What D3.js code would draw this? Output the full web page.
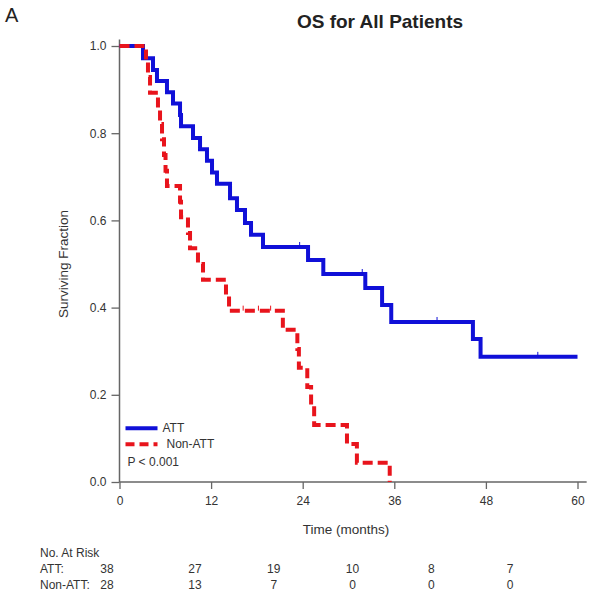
<!DOCTYPE html>
<html>
<head>
<meta charset="utf-8">
<script src="https://cdn.jsdelivr.net/npm/d3@7"></script>
<style>
  body { margin: 0; background: #fff; }
  svg { display: block; font-family: Arial, "Liberation Sans", sans-serif; }
</style>
</head>
<body>
<svg id="chart" width="589" height="599"></svg>
<script>
// ---- Data ----
const attTimes  = [0, 3.08, 4.39, 4.91, 6.22, 7.01, 7.93, 8.06, 9.63, 10.55, 11.46, 12.12, 12.77, 14.48, 15.39, 16.44, 17.23, 18.8, 24.7, 26.7, 32.2, 34.4, 35.6, 46.3, 47.3, 60];
const attValues = [1, 0.972, 0.945, 0.920, 0.894, 0.868, 0.842, 0.816, 0.789, 0.763, 0.737, 0.710, 0.684, 0.651, 0.624, 0.594, 0.567, 0.539, 0.509, 0.477, 0.445, 0.406, 0.367, 0.328, 0.287, 0.287];
const attCensorTimes = [23.6, 31.8, 41.6, 54.8];

const nonTimes  = [0, 3.47, 3.73, 4.0, 5.04, 5.31, 5.57, 5.83, 6.03, 6.22, 7.93, 8.06, 8.97, 9.24, 10.28, 10.94, 13.95, 14.35, 21.4, 23.3, 23.5, 24.6, 25.1, 25.5, 29.8, 31.1, 35.4];
const nonValues = [1, 0.964, 0.929, 0.893, 0.857, 0.821, 0.786, 0.750, 0.714, 0.679, 0.643, 0.607, 0.571, 0.536, 0.500, 0.464, 0.429, 0.393, 0.349, 0.305, 0.262, 0.218, 0.175, 0.131, 0.087, 0.044, 0];
const nonCensorTimes = [16.2, 18.2, 19.8];

const xTicks = [0, 12, 24, 36, 48, 60];
const yTicks = [0, 0.2, 0.4, 0.6, 0.8, 1.0];

const riskLabels = ["ATT:", "Non-ATT:"];
const riskATT = [38, 27, 19, 10, 8, 7];
const riskNon = [28, 13, 7, 0, 0, 0];

// ---- Layout ----
const svg = d3.select("#chart");
const margin = { left: 119.5, right: 11.5, top: 46, bottom: 117 };
const W = 589, H = 599;
const x = d3.scaleLinear().domain([0, 60]).range([margin.left, W - margin.right]);
const y = d3.scaleLinear().domain([0, 1]).range([H - margin.bottom, margin.top]);

const axisColor = "#666";
const textColor = "#333";

// Panel letter & title
svg.append("text").attr("x", 5).attr("y", 22).attr("font-size", 20).attr("fill", "#222").text("A");
svg.append("text").attr("x", 380).attr("y", 28).attr("text-anchor", "middle")
  .attr("font-size", 19).attr("font-weight", "bold").attr("fill", "#222").text("OS for All Patients");

// Y axis
const yAxis = svg.append("g").attr("transform", `translate(${x(0)},0)`)
  .call(d3.axisLeft(y).tickValues(yTicks).tickFormat(d3.format(".1f")).tickSize(8).tickSizeOuter(0).tickPadding(5));
yAxis.select(".domain").attr("d", `M0,${y(1.015)}V${y(0)}`);
// X axis
const xAxis = svg.append("g").attr("transform", `translate(0,${y(0)})`)
  .call(d3.axisBottom(x).tickValues(xTicks).tickSize(7).tickSizeOuter(0).tickPadding(7));
xAxis.select(".domain").attr("d", `M${x(0)},0H${x(61.2)}`);

[yAxis, xAxis].forEach(g => {
  g.selectAll(".domain").attr("stroke", axisColor).attr("stroke-width", 1.5);
  g.selectAll(".tick line").attr("stroke", axisColor).attr("stroke-width", 1.3);
  g.selectAll(".tick text").attr("fill", textColor).attr("font-size", 12)
    .attr("font-family", "Arial, 'Liberation Sans', sans-serif");
});

// Axis titles
svg.append("text").attr("transform", `translate(68,${y(0.5)}) rotate(-90)`).attr("text-anchor", "middle")
  .attr("font-size", 13.5).attr("fill", textColor).text("Surviving Fraction");
svg.append("text").attr("x", 346).attr("y", y(0) + 52).attr("text-anchor", "middle")
  .attr("font-size", 13.5).attr("fill", textColor).text("Time (months)");

// Curves
const line = d3.line().x(d => x(d[0])).y(d => y(d[1])).curve(d3.curveStepAfter);
const attData = attTimes.map((t, i) => [t, attValues[i]]);
const nonData = nonTimes.map((t, i) => [t, nonValues[i]]);

function valueAt(times, values, t) {
  let v = values[0];
  for (let i = 0; i < times.length; i++) if (times[i] <= t) v = values[i];
  return v;
}

svg.append("path").datum(attData).attr("d", line)
  .attr("fill", "none").attr("stroke", "#1010d8").attr("stroke-width", 4);
svg.append("path").datum(nonData).attr("d", line)
  .attr("fill", "none").attr("stroke", "#e8141c").attr("stroke-width", 4)
  .attr("stroke-dasharray", "10,5");

// Censor marks
svg.selectAll(".cA").data(attCensorTimes).enter().append("line")
  .attr("x1", d => x(d)).attr("x2", d => x(d))
  .attr("y1", d => y(valueAt(attTimes, attValues, d)) - 5)
  .attr("y2", d => y(valueAt(attTimes, attValues, d)))
  .attr("stroke", "#1010d8").attr("stroke-width", 1);
svg.selectAll(".cN").data(nonCensorTimes).enter().append("line")
  .attr("x1", d => x(d)).attr("x2", d => x(d))
  .attr("y1", d => y(valueAt(nonTimes, nonValues, d)) - 5)
  .attr("y2", d => y(valueAt(nonTimes, nonValues, d)))
  .attr("stroke", "#e8141c").attr("stroke-width", 1);

// Legend
const lg = svg.append("g").attr("transform", `translate(${x(0) + 6},${y(0.123)})`);
lg.append("line").attr("x1", 0).attr("x2", 32).attr("y1", 0).attr("y2", 0)
  .attr("stroke", "#1010d8").attr("stroke-width", 4);
lg.append("text").attr("x", 37).attr("y", 4).attr("font-size", 12).attr("fill", textColor).text("ATT");
lg.append("line").attr("x1", 0).attr("x2", 32).attr("y1", 16).attr("y2", 16)
  .attr("stroke", "#e8141c").attr("stroke-width", 4).attr("stroke-dasharray", "9,5");
lg.append("text").attr("x", 41).attr("y", 20).attr("font-size", 12).attr("fill", textColor).text("Non-ATT");
lg.append("text").attr("x", 2).attr("y", 38).attr("font-size", 12).attr("fill", textColor).text("P < 0.001");

// At-risk table
const colX = d3.scaleLinear().domain([1, 5]).range([195, 510]);
const rowY = d3.scaleLinear().domain([0, 2]).range([557, 589]);
svg.append("text").attr("x", 40).attr("y", rowY(0)).attr("font-size", 12).attr("fill", textColor).text("No. At Risk");
[riskATT, riskNon].forEach((row, r) => {
  svg.append("text").attr("x", 40).attr("y", rowY(r + 1)).attr("font-size", 12).attr("fill", textColor).text(riskLabels[r]);
  svg.selectAll(null).data(row).enter().append("text")
    .attr("x", (d, i) => i === 0 ? 107 : colX(i))
    .attr("y", rowY(r + 1)).attr("text-anchor", "middle").attr("font-size", 12).attr("fill", textColor)
    .text(d => d);
});
</script>
</body>
</html>
